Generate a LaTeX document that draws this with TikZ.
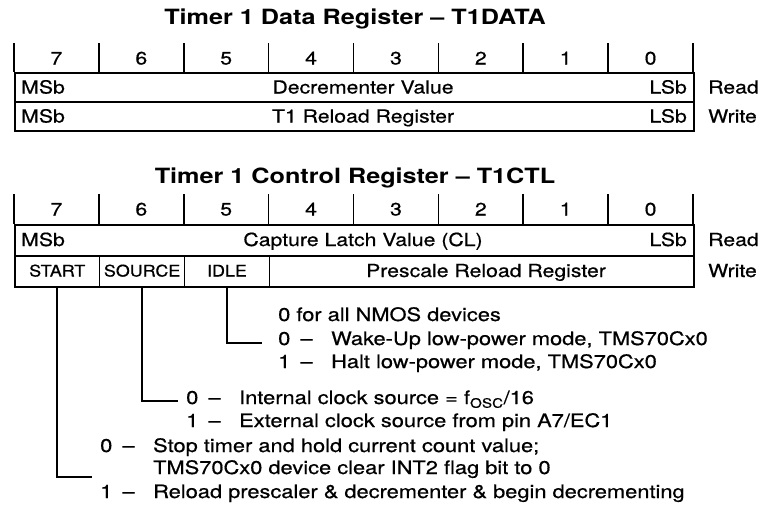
\documentclass[tikz,border=0pt]{standalone}
\usepackage{fontspec}
\setmainfont{TeX Gyre Heros}[FakeStretch=1.18, FakeBold=0.6]
\newfontfamily\fieldfam{TeX Gyre Heros}[FakeStretch=1.12, FakeBold=0.6]
\newfontfamily\headfam{TeX Gyre Heros}[FakeStretch=1.2, Ligatures=TeX]
\usetikzlibrary{calc}
\newcommand\regfont{\fontsize{18}{21}\selectfont}
\newcommand\fieldfont{\fieldfam\fontsize{16}{19}\selectfont}
\newcommand\headfont{\headfam\fontsize{21}{25}\selectfont\bfseries}
\newcommand\notefont{\fontsize{18.5}{22}\selectfont}
% value, dash, then the description in a fixed column
\newcommand\opt[2]{\makebox[53pt][l]{#1\hspace{0.55em}\textendash}#2}
\newcommand\cont[1]{\makebox[53pt][l]{}#1}
\begin{document}
\begin{tikzpicture}[x=1pt,y=-1pt,
  rule/.style={line width=1.6pt},
  rowbox/.style={draw, line width=1.6pt, inner sep=0pt, anchor=north west,
    minimum width=679pt, minimum height=#1},
  cellbox/.style={draw, line width=1.6pt, inner sep=0pt, anchor=north west,
    minimum height=31pt, minimum width=#1},
  txt/.style={inner sep=0pt, anchor=base, font=\regfont},
  lft/.style={txt, anchor=base west},
  rgt/.style={txt, anchor=base east},
  fld/.style={txt, font=\fieldfont},
  note/.style={inner sep=0pt, anchor=base west, font=\notefont},
  title/.style={inner sep=0pt, anchor=base, font=\headfont}]
\fill[white] (0,0) rectangle (763,506);
\useasboundingbox (0,0) rectangle (763,506);

% ---------- Timer 1 data register ----------
\node[title] (t1) at (355,24.5) {Timer 1 Data Register \textendash{} T1DATA};
\foreach \i in {0,...,8} \draw[rule] ({14+\i*84.875},43) -- ({14+\i*84.875},72);
\foreach \b in {0,...,7} \node[txt] (dbit\b) at ({14+(7.5-\b)*84.875},64.5) {\b};
\node[rowbox=29pt] (dread) at (14,72) {};
\node[rowbox=29pt] (dwrite) at (14,101) {};
\node[lft] (dmsbr) at (21,93.5) {MSb};
\node[txt] (dval) at (363,93.5) {Decrementer Value};
\node[rgt] (dlsbr) at (687,93.5) {LSb};
\node[lft] (dreadlbl) at (708,93.5) {Read};
\node[lft] (dmsbw) at (21,122.5) {MSb};
\node[txt] (dreload) at (363,122.5) {T1 Reload Register};
\node[rgt] (dlsbw) at (687,122.5) {LSb};
\node[lft] (dwritelbl) at (708,122.5) {Write};

% ---------- Timer 1 control register ----------
\node[title] (t2) at (355,183.5) {Timer 1 Control Register \textendash{} T1CTL};
\foreach \i in {0,...,8} \draw[rule] ({14+\i*84.875},194) -- ({14+\i*84.875},224);
\foreach \b in {0,...,7} \node[txt] (cbit\b) at ({14+(7.5-\b)*84.875},215.5) {\b};
\node[rowbox=31pt] (cread) at (14,224) {};
\node[lft] (cmsb) at (21,246) {MSb};
\node[txt] (ccl) at (363,246) {Capture Latch Value (CL)};
\node[rgt] (clsb) at (687,246) {LSb};
\node[lft] (creadlbl) at (708,246) {Read};
\node[cellbox=84.875pt] (start) at (14,255) {};
\node[cellbox=84.875pt] (source) at (98.875,255) {};
\node[cellbox=84.875pt] (idle) at (183.75,255) {};
\node[cellbox=424.375pt] (presc) at (268.625,255) {};
\node[fld] (startlbl) at (start.center |- 0,276.5) {START};
\node[fld] (sourcelbl) at (source.center |- 0,276.5) {SOURCE};
\node[fld] (idlelbl) at (idle.center |- 0,276.5) {IDLE};
\node[txt] (presclbl) at (486,277) {Prescale Reload Register};
\node[lft] (cwritelbl) at (708,277) {Write};

% ---------- bit descriptions ----------
\node[note] (nmos) at (278,321) {0 for all NMOS devices};
\node[note] (wake) at (278,345) {\opt{0}{Wake-Up low-power mode, TMS70Cx0}};
\node[note] (halt) at (278,368) {\opt{1}{Halt low-power mode, TMS70Cx0}};
\node[note] (intclk) at (186,404) {\opt{0}{Internal clock source = f\textsubscript{OSC}/16}};
\node[note] (extclk) at (186,427) {\opt{1}{External clock source from pin A7/EC1}};
\node[note] (stop) at (100,452) {\opt{0}{Stop timer and hold current count value;}};
\node[note] (clr) at (100,474) {\cont{TMS70Cx0 device clear INT2 flag bit to 0}};
\node[note] (reload) at (100,498) {\opt{1}{Reload prescaler \& decrementer \& begin decrementing}};

\coordinate (idletip) at (262,343);
\coordinate (sourcetip) at (178,401);
\coordinate (starttip) at (92,477);
\draw[rule] (idle.south) |- (idletip);
\draw[rule] (source.south) |- (sourcetip);
\draw[rule] (start.south) |- (starttip);
\end{tikzpicture}
\end{document}
